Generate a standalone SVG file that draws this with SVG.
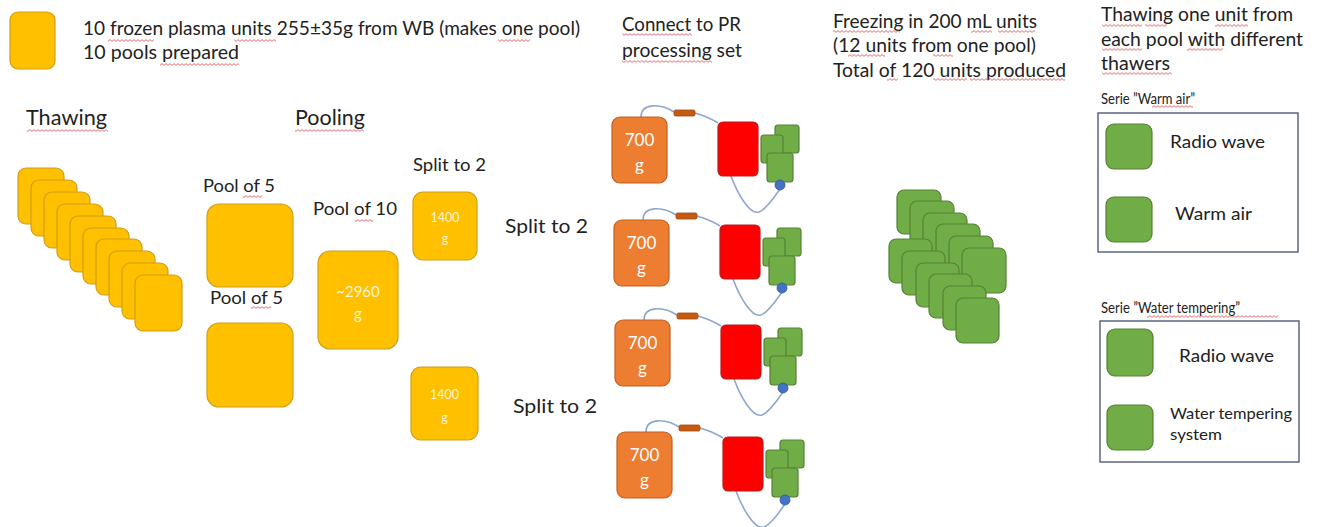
<svg xmlns="http://www.w3.org/2000/svg" width="1317" height="527" viewBox="0 0 1317 527">
<style>
text{font-family:Lato,"Liberation Sans",sans-serif;fill:#222222}
.y{fill:#FFC000;stroke:#D09E1A;stroke-width:1.2}
.o{fill:#ED7D31;stroke:#C45F24;stroke-width:1.2}
.r{fill:#FF0000;stroke:#B81C1C;stroke-width:1.2}
.g{fill:#70AD47;stroke:#548235;stroke-width:1.2}
.br{fill:#C55A11;stroke:#A04A10;stroke-width:0.8}
.bl{fill:#4472C4;stroke:#2F5597;stroke-width:0.8}
.tube{fill:none;stroke:#8FA6CF;stroke-width:1.6}
.box{fill:none;stroke:#5B6685;stroke-width:1.5}
.wt{fill:#FFF4D6;text-anchor:middle}
.ww{fill:#FFFFFF;text-anchor:middle}
.sq{fill:url(#wavy)}
</style>
<defs>
<pattern id="wavy" width="4" height="3" patternUnits="userSpaceOnUse">
<path d="M0,2.4 L2,0.6 L4,2.4" fill="none" stroke="#E04848" stroke-width="0.8"/>
</pattern>
<g id="prset">
<path class="tube" d="M641,117 C641,103 660,103 674,112"/>
<path class="tube" d="M695,113 C705,116 712,119 718,123"/>
<path class="tube" d="M731,176 C738,195 750,215 759,212 C767,209 775,196 780,189"/>
<rect class="br" x="674" y="110" width="21" height="6" rx="1.5"/>
<rect class="o" x="612" y="117" width="55" height="66" rx="8"/>
<text class="ww" x="639.5" y="146" font-size="17">700</text>
<text class="ww" x="639.5" y="171" font-size="17">g</text>
<rect class="r" x="718" y="122" width="40" height="54" rx="5"/>
<rect class="g" x="775" y="125" width="24" height="28" rx="3"/>
<rect class="g" x="761" y="135" width="22" height="28" rx="3"/>
<rect class="g" x="767" y="153" width="26" height="29" rx="3"/>
<circle class="bl" cx="780" cy="185" r="5"/>
</g>
</defs>

<g id="legend">
<rect class="y" x="10" y="12" width="45" height="57" rx="8"/>
<text x="83" y="35" font-size="19" textLength="497" lengthAdjust="spacingAndGlyphs">10 frozen plasma units 255±35g from WB (makes one pool)</text>
<text x="83" y="59" font-size="19" textLength="156" lengthAdjust="spacingAndGlyphs">10 pools prepared</text>
</g>

<g id="headers">
<text x="26" y="125" font-size="21" textLength="81" lengthAdjust="spacingAndGlyphs">Thawing</text>
<text x="295" y="125" font-size="21" textLength="70" lengthAdjust="spacingAndGlyphs">Pooling</text>
<text x="622" y="31" font-size="18.5" textLength="119" lengthAdjust="spacingAndGlyphs">Connect to PR</text>
<text x="622" y="57" font-size="18.5" textLength="120" lengthAdjust="spacingAndGlyphs">processing set</text>
<text x="833" y="28" font-size="18.5" textLength="204" lengthAdjust="spacingAndGlyphs">Freezing in 200 mL units</text>
<text x="833" y="52" font-size="18.5" textLength="203" lengthAdjust="spacingAndGlyphs">(12 units from one pool)</text>
<text x="833" y="77" font-size="18.5" textLength="233" lengthAdjust="spacingAndGlyphs">Total of 120 units produced</text>
<text x="1101" y="21" font-size="18.5" textLength="192" lengthAdjust="spacingAndGlyphs">Thawing one unit from</text>
<text x="1101" y="46" font-size="18.5" textLength="202" lengthAdjust="spacingAndGlyphs">each pool with different</text>
<text x="1101" y="70" font-size="18.5" textLength="69" lengthAdjust="spacingAndGlyphs">thawers</text>
</g>

<g id="thawing-stack">
<rect class="y" x="18" y="168" width="46" height="56" rx="8"/>
<rect class="y" x="31" y="180" width="46" height="56" rx="8"/>
<rect class="y" x="44" y="192" width="46" height="56" rx="8"/>
<rect class="y" x="57" y="204" width="46" height="56" rx="8"/>
<rect class="y" x="70" y="216" width="46" height="56" rx="8"/>
<rect class="y" x="83" y="228" width="46" height="56" rx="8"/>
<rect class="y" x="96" y="239" width="46" height="56" rx="8"/>
<rect class="y" x="109" y="251" width="46" height="56" rx="8"/>
<rect class="y" x="122" y="263" width="46" height="56" rx="8"/>
<rect class="y" x="135" y="275" width="47" height="56" rx="8"/>
</g>

<g id="pool5-a">
<text x="203" y="192" font-size="18" textLength="72" lengthAdjust="spacingAndGlyphs">Pool of 5</text>
<rect class="y" x="207" y="204" width="86" height="83" rx="12"/>
</g>
<g id="pool5-b">
<text x="210" y="304" font-size="18" textLength="73" lengthAdjust="spacingAndGlyphs">Pool of 5</text>
<rect class="y" x="207" y="323" width="86" height="84" rx="12"/>
</g>
<g id="pool10">
<text x="313" y="215" font-size="18" textLength="84" lengthAdjust="spacingAndGlyphs">Pool of 10</text>
<rect class="y" x="318" y="251" width="80" height="98" rx="12"/>
<text class="wt" x="358" y="297" font-size="15">~2960</text>
<text class="wt" x="358" y="319" font-size="15">g</text>
</g>
<g id="split-a">
<text x="413" y="171" font-size="18" textLength="73" lengthAdjust="spacingAndGlyphs">Split to 2</text>
<rect class="y" x="413" y="192" width="64" height="68" rx="10"/>
<text class="wt" x="445" y="222" font-size="12.5">1400</text>
<text class="wt" x="445" y="243" font-size="12.5">g</text>
</g>
<g id="split-b">
<rect class="y" x="411" y="367" width="67" height="73" rx="10"/>
<text class="wt" x="444.5" y="399" font-size="12.5">1400</text>
<text class="wt" x="444.5" y="422" font-size="12.5">g</text>
</g>
<g id="split-labels">
<text x="505" y="233" font-size="20" textLength="83" lengthAdjust="spacingAndGlyphs">Split to 2</text>
<text x="513" y="413" font-size="20" textLength="84" lengthAdjust="spacingAndGlyphs">Split to 2</text>
</g>

<g id="pr-set-1"><use href="#prset"/></g>
<g id="pr-set-2"><use href="#prset" transform="translate(2,103)"/></g>
<g id="pr-set-3"><use href="#prset" transform="translate(3,203)"/></g>
<g id="pr-set-4"><use href="#prset" transform="translate(5,315)"/></g>

<g id="frozen-units">
<rect class="g" x="897" y="190" width="44" height="44" rx="7"/>
<rect class="g" x="910" y="201" width="44" height="44" rx="7"/>
<rect class="g" x="923" y="213" width="44" height="44" rx="7"/>
<rect class="g" x="936" y="224" width="44" height="44" rx="7"/>
<rect class="g" x="949" y="236" width="44" height="44" rx="7"/>
<rect class="g" x="962" y="248" width="44" height="45" rx="7"/>
<rect class="g" x="889" y="239" width="43" height="44" rx="7"/>
<rect class="g" x="902" y="251" width="43" height="44" rx="7"/>
<rect class="g" x="916" y="263" width="43" height="44" rx="7"/>
<rect class="g" x="929" y="274" width="43" height="44" rx="7"/>
<rect class="g" x="943" y="286" width="43" height="44" rx="7"/>
<rect class="g" x="956" y="298" width="43" height="45" rx="7"/>
</g>

<g id="serie-warm-air">
<text x="1101" y="104" font-size="15.5" textLength="94" lengthAdjust="spacingAndGlyphs">Serie ”Warm air”</text>
<rect class="box" x="1098" y="113" width="200" height="139"/>
<rect class="g" x="1106" y="124" width="46" height="45" rx="8"/>
<text x="1170" y="148" font-size="17" textLength="95" lengthAdjust="spacingAndGlyphs">Radio wave</text>
<rect class="g" x="1106" y="197" width="46" height="45" rx="8"/>
<text x="1175" y="220" font-size="17" textLength="77" lengthAdjust="spacingAndGlyphs">Warm air</text>
</g>

<g id="serie-water">
<text x="1101" y="313" font-size="15.5" textLength="139" lengthAdjust="spacingAndGlyphs">Serie ”Water tempering”</text>
<rect class="box" x="1100" y="321" width="199" height="141"/>
<rect class="g" x="1107" y="329" width="46" height="47" rx="8"/>
<text x="1179" y="362" font-size="17" textLength="95" lengthAdjust="spacingAndGlyphs">Radio wave</text>
<rect class="g" x="1107" y="405" width="46" height="45" rx="8"/>
<text x="1170" y="419" font-size="15" textLength="122" lengthAdjust="spacingAndGlyphs">Water tempering</text>
<text x="1170" y="440" font-size="15" textLength="52" lengthAdjust="spacingAndGlyphs">system</text>
</g>

<g id="spellcheck-marks">
<rect class="sq" x="108" y="39" width="46" height="3"/>
<rect class="sq" x="234" y="39" width="42" height="3"/>
<rect class="sq" x="498" y="39" width="32" height="3"/>
<rect class="sq" x="160" y="63" width="79" height="3"/>
<rect class="sq" x="27" y="129" width="81" height="3"/>
<rect class="sq" x="295" y="129" width="69" height="3"/>
<rect class="sq" x="243" y="195" width="19" height="3"/>
<rect class="sq" x="251" y="306" width="20" height="3"/>
<rect class="sq" x="355" y="219" width="18" height="3"/>
<rect class="sq" x="622" y="33" width="70" height="3"/>
<rect class="sq" x="622" y="60" width="90" height="3"/>
<rect class="sq" x="833" y="30" width="67" height="3"/>
<rect class="sq" x="971" y="30" width="21" height="3"/>
<rect class="sq" x="998" y="30" width="37" height="3"/>
<rect class="sq" x="848" y="54" width="37" height="3"/>
<rect class="sq" x="933" y="54" width="20" height="3"/>
<rect class="sq" x="887" y="78" width="11" height="3"/>
<rect class="sq" x="933" y="78" width="34" height="3"/>
<rect class="sq" x="970" y="78" width="95" height="3"/>
<rect class="sq" x="1102" y="24" width="40" height="3"/>
<rect class="sq" x="1145" y="24" width="22" height="3"/>
<rect class="sq" x="1215" y="24" width="33" height="3"/>
<rect class="sq" x="1102" y="48" width="40" height="3"/>
<rect class="sq" x="1187" y="48" width="36" height="3"/>
<rect class="sq" x="1102" y="72" width="70" height="3"/>
<rect class="sq" x="1152" y="105" width="41" height="3"/>
<rect class="sq" x="1147" y="315" width="131" height="3"/>
</g>
</svg>
